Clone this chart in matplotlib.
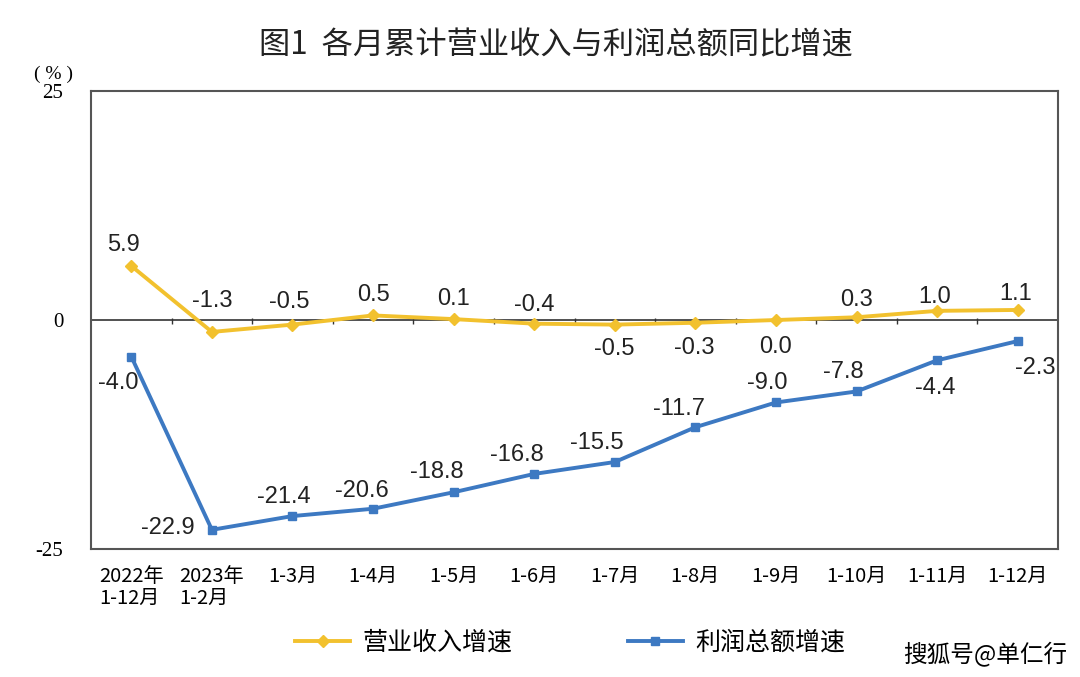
import numpy as np
import matplotlib.pyplot as plt

plt.rcParams['font.family'] = ['Noto Sans CJK SC', 'DejaVu Sans']

# Data
categories = ["2022年\n1-12月", "2023年\n1-2月", "1-3月", "1-4月", "1-5月", "1-6月",
              "1-7月", "1-8月", "1-9月", "1-10月", "1-11月", "1-12月"]
revenue = [5.9, -1.3, -0.5, 0.5, 0.1, -0.4, -0.5, -0.3, 0.0, 0.3, 1.0, 1.1]
profit = [-4.0, -22.9, -21.4, -20.6, -18.8, -16.8, -15.5, -11.7, -9.0, -7.8, -4.4, -2.3]

# label offsets in pixels (dx, dy)
revenue_offsets = [(-8, 21), (0, 31), (-3, 23), (0, 20), (0, 20), (0, 19),
                   (-1, -24), (-1, -25), (0, -27), (0, 17), (-2, 14), (-2, 16)]
profit_offsets = [(-13, -26), (-44, 2), (-9, 19), (-11, 18), (-17, 20), (-17, 19),
                  (-18, 19), (-16, 18), (-9, 19), (-13, 19), (-2, -28), (18, -27)]

yellow = '#F2C12E'
blue = '#3D79C2'

fig = plt.figure(figsize=(10.8, 6.77), dpi=100)
ax = fig.add_axes([0.0843, 0.189, 0.8953, 0.6766])

x = np.arange(len(categories))
ax.plot(x, revenue, color=yellow, lw=2.8, marker='D', ms=6, label='营业收入增速', zorder=3)
ax.plot(x, profit, color=blue, lw=2.8, marker='s', ms=6, label='利润总额增速', zorder=3)

ax.axhline(0, color='#333333', lw=1.2, zorder=2)
ax.vlines(x[:-1] + 0.5, -0.45, 0.25, color='#333333', lw=1.0, zorder=2)

for xi, v, (dx, dy) in zip(x, revenue, revenue_offsets):
    ax.annotate(f"{v:.1f}", (xi, v), xytext=(dx, dy), textcoords='offset pixels',
                ha='center', va='center', fontsize=17, family='Liberation Sans', color='#222222')
for xi, v, (dx, dy) in zip(x, profit, profit_offsets):
    ax.annotate(f"{v:.1f}", (xi, v), xytext=(dx, dy), textcoords='offset pixels',
                ha='center', va='center', fontsize=17, family='Liberation Sans', color='#222222')

ax.set_xlim(-0.5, len(categories) - 0.5)
ax.set_ylim(-25, 25)
ax.set_yticks([-25, 0, 25])
ax.set_yticklabels(['-25', '0', '25'], family='Liberation Serif', fontsize=15)
ax.tick_params(axis='y', length=0, pad=20)
ax.set_xticks(x)
ax.set_xticklabels(categories, fontsize=14.5, multialignment='left', va='top', linespacing=1.1)
ax.tick_params(axis='x', length=0, pad=12)
for s in ax.spines.values():
    s.set_color('#555555')
    s.set_linewidth(1.5)

fig.text(53 / 1080, 1 - 74 / 677, '( % )', ha='center', va='center', fontsize=14,
         family='Liberation Serif')
fig.suptitle('图1  各月累计营业收入与利润总额同比增速', x=0.515, y=1 - 45 / 677,
             va='center', fontsize=22.5, color='#222222')

fig.legend(loc='center', bbox_to_anchor=(0.528, 1 - 643 / 677), ncol=2, frameon=False,
           fontsize=18, handlelength=2.2, handletextpad=0.5, columnspacing=4.6)
fig.text(985 / 1080, 1 - 655 / 677, '搜狐号@单仁行', ha='center', va='center', fontsize=17)

fig.savefig('out.png', dpi=100)
